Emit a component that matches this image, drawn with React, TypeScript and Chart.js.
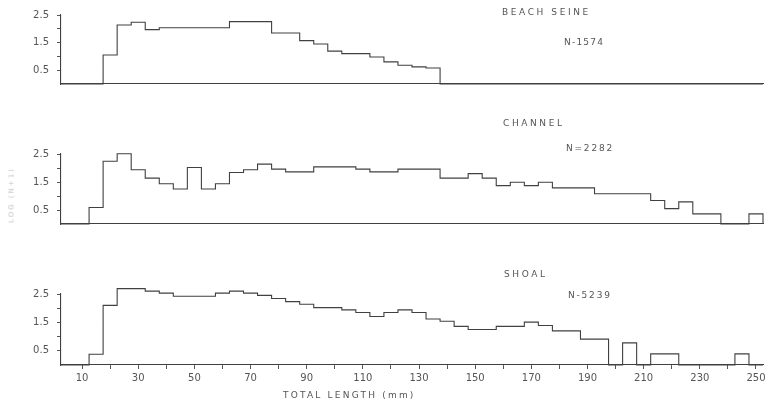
import React, { useEffect, useRef } from 'react';
import { Chart, registerables } from 'chart.js';

Chart.register(...registerables);

// Length-class bin centres (mm), 5 mm bins
const binCenters = [
  5, 10, 15, 20, 25, 30, 35, 40, 45, 50,
  55, 60, 65, 70, 75, 80, 85, 90, 95, 100,
  105, 110, 115, 120, 125, 130, 135, 140, 145, 150,
  155, 160, 165, 170, 175, 180, 185, 190, 195, 200,
  205, 210, 215, 220, 225, 230, 235, 240, 245, 250,
];
const binWidth = 5;

const beachSeine = [
  0, 0, 0, 1.05, 2.14, 2.24, 1.97, 2.04, 2.04, 2.04,
  2.04, 2.04, 2.26, 2.26, 2.26, 1.85, 1.85, 1.57, 1.45, 1.19,
  1.1, 1.1, 0.98, 0.8, 0.68, 0.62, 0.58, 0, 0, 0,
  0, 0, 0, 0, 0, 0, 0, 0, 0, 0,
  0, 0, 0, 0, 0, 0, 0, 0, 0, 0,
];

const channel = [
  0, 0, 0.59, 2.24, 2.51, 1.94, 1.64, 1.44, 1.25, 2.02,
  1.25, 1.44, 1.84, 1.94, 2.14, 1.96, 1.86, 1.86, 2.04, 2.04,
  2.04, 1.96, 1.86, 1.86, 1.96, 1.96, 1.96, 1.64, 1.64, 1.8,
  1.64, 1.37, 1.49, 1.37, 1.49, 1.29, 1.29, 1.29, 1.08, 1.08,
  1.08, 1.08, 0.84, 0.55, 0.79, 0.36, 0.36, 0, 0, 0.36,
];

const shoal = [
  0, 0, 0.38, 2.1, 2.69, 2.69, 2.6, 2.53, 2.42, 2.42,
  2.42, 2.53, 2.6, 2.53, 2.45, 2.34, 2.23, 2.14, 2.02, 2.02,
  1.94, 1.85, 1.71, 1.85, 1.94, 1.85, 1.62, 1.54, 1.36, 1.25,
  1.25, 1.36, 1.36, 1.51, 1.39, 1.2, 1.2, 0.91, 0.91, 0,
  0.78, 0, 0.39, 0.39, 0, 0, 0, 0, 0.39, 0,
];

const xTickValues = [10, 20, 30, 40, 50, 60, 70, 80, 90, 100, 110, 120, 130, 140, 150, 160, 170, 180, 190, 200, 210, 220, 230, 240, 250];
const xLabelValues = [10, 30, 50, 70, 90, 110, 130, 150, 170, 190, 210, 230, 250];
const yTickValues = [0.5, 1, 1.5, 2, 2.5];
const yLabelValues = [0.5, 1.5, 2.5];

const panelNames = ['BEACH SEINE', 'CHANNEL', 'SHOAL'];
const panelCounts = ['N-1574', 'N=2282', 'N-5239'];
const xTitle = 'TOTAL LENGTH (mm)';
const yTitle = 'LOG (N+1)';

const FONT = "'DejaVu Sans', sans-serif";
const LINE = '#404040';
const TEXT = '#555';

type PanelProps = {
  values: number[];
  top: number;
  height: number;
  padTop: number;
  xHeight: number;
  showX: boolean;
};

function Panel({ values, top, height, padTop, xHeight, showX }: PanelProps) {
  const ref = useRef<HTMLCanvasElement | null>(null);
  useEffect(() => {
    if (!ref.current) return;
    const last = binCenters.length - 1;
    const pts = binCenters.map((c, i) => ({ x: c - binWidth / 2, y: values[i] }));
    // close the histogram outline at the right-hand edge of the last bin
    pts.push({ x: binCenters[last] + binWidth / 2, y: 0 });
    const chart = new Chart(ref.current, {
      type: 'line',
      data: {
        datasets: [
          {
            data: pts,
            stepped: 'before',
            borderColor: LINE,
            borderWidth: 1.1,
            pointRadius: 0,
            fill: false,
            clip: false,
          } as any,
        ],
      },
      options: {
        animation: false,
        responsive: false,
        maintainAspectRatio: false,
        layout: { padding: { top: padTop, right: 14, bottom: 0, left: 0 } },
        plugins: { legend: { display: false }, tooltip: { enabled: false }, title: { display: false } },
        scales: {
          x: {
            type: 'linear',
            min: binCenters[0] - binWidth / 2,
            max: binCenters[last] + binWidth / 2,
            afterBuildTicks: (s: any) => {
              s.ticks = xTickValues.map((v) => ({ value: v }));
            },
            afterFit: (s: any) => {
              s.height = xHeight;
            },
            grid: { display: showX, drawOnChartArea: false, drawTicks: true, tickLength: 4, color: '#555' },
            border: { display: true, color: LINE, width: 1.1 },
            ticks: {
              display: showX,
              autoSkip: false,
              maxRotation: 0,
              padding: 3,
              color: TEXT,
              font: { family: FONT, size: 10 },
              callback: (v: any) => (xLabelValues.includes(Number(v)) ? String(v) : ''),
            },
          },
          y: {
            type: 'linear',
            min: 0,
            max: 2.5,
            afterBuildTicks: (s: any) => {
              s.ticks = yTickValues.map((v) => ({ value: v }));
            },
            afterFit: (s: any) => {
              s.width = 61;
            },
            grid: { drawOnChartArea: false, drawTicks: true, tickLength: 4, color: '#555' },
            border: { display: true, color: LINE, width: 1.1 },
            ticks: {
              autoSkip: false,
              padding: 8,
              color: TEXT,
              font: { family: FONT, size: 10 },
              callback: (v: any) => (yLabelValues.includes(Number(v)) ? String(v) : ''),
            },
          },
        },
      },
    } as any);
    return () => chart.destroy();
  }, [values, padTop, xHeight, showX]);
  return (
    <canvas
      ref={ref}
      width={777}
      height={height}
      style={{ position: 'absolute', left: 0, top, width: 777, height }}
    />
  );
}

function Label({ text, left, top, spacing, size }: { text: string; left: number; top: number; spacing: number; size: number }) {
  return (
    <div
      style={{
        position: 'absolute',
        left,
        top,
        fontFamily: FONT,
        fontSize: size,
        letterSpacing: spacing,
        color: TEXT,
        lineHeight: 1,
        whiteSpace: 'nowrap',
      }}
    >
      {text}
    </div>
  );
}

export default function App() {
  return (
    <div style={{ position: 'absolute', left: 0, top: 0, width: 777, height: 409, background: '#fff', overflow: 'hidden' }}>
      <Panel values={beachSeine} top={0} height={100} padTop={15} xHeight={16} showX={false} />
      <Panel values={channel} top={130} height={110} padTop={24} xHeight={16} showX={false} />
      <Panel values={shoal} top={270} height={139} padTop={24} xHeight={44} showX={true} />
      <Label text={panelNames[0]} left={502} top={8} spacing={2.6} size={9} />
      <Label text={panelCounts[0]} left={564} top={38} spacing={1.2} size={9} />
      <Label text={panelNames[1]} left={503} top={119} spacing={2.6} size={9} />
      <Label text={panelCounts[1]} left={566} top={144} spacing={1.8} size={9} />
      <Label text={panelNames[2]} left={504} top={270} spacing={2.6} size={9} />
      <Label text={panelCounts[2]} left={568} top={291} spacing={1.8} size={9} />
      <Label text={xTitle} left={283} top={391} spacing={2.2} size={9} />
      <div
        style={{
          position: 'absolute',
          left: 12,
          top: 195,
          transform: 'translate(-50%, -50%) rotate(-90deg)',
          fontFamily: FONT,
          fontSize: 7,
          letterSpacing: 2,
          color: '#c4c4c4',
          whiteSpace: 'nowrap',
          lineHeight: 1,
        }}
      >
        {yTitle}
      </div>
    </div>
  );
}
